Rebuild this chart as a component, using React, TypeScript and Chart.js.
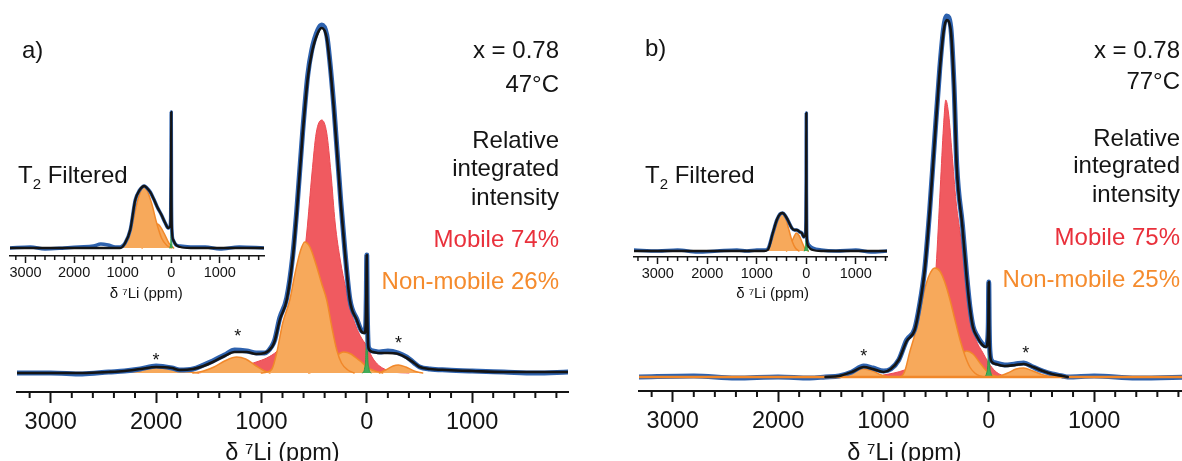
import React, { useEffect, useRef } from 'react';
import { Chart, registerables } from 'chart.js';

Chart.register(...registerables);

const FONT = '"Liberation Sans", Arial, Helvetica, sans-serif';
const INK = '#141414';
const BLUE = '#2e62ae';
const RED_FILL = '#f05a60';
const RED_LINE = '#ec4a52';
const ORANGE_FILL = '#f7a95b';
const ORANGE_LINE = '#f1882a';
const GREEN_FILL = '#42ad5a';
const GREEN_LINE = '#2b9a46';
const RED_TEXT = '#e9303b';
const ORANGE_TEXT = '#f58b2d';

// ---------- axis ticks (ppm) ----------
const majorTicks = [3000, 2000, 1000, 0, -1000];
const minorTicks = [3400, 3200, 2800, 2600, 2400, 2200, 1800, 1600, 1400, 1200, 800, 600, 400, 200, -200, -400, -600, -800, -1200, -1400, -1600, -1800];
const axisTitle = 'δ ⁷Li (ppm)';

// ---------- panel a, main spectrum (47 °C) ----------
const ppmFitA = [3320, 3000, 2700, 2450, 2300, 2150, 2000, 1850, 1776, 1650, 1550, 1462, 1350, 1254, 1140, 1050, 969, 900, 874, 826, 760, 703, 665, 608, 560, 522, 465, 427, 380, 351, 313, 247, 209, 161, 95, 47, 20, 10, 4, 0, -4, -10, -19, -60, -123, -200, -300, -380, -450, -503, -600, -760, -1000, -1300, -1600, -1910];
const fitA = [0, 0, 0, 1, 2, 4, 6, 5, 3, 4, 7, 11, 17, 21, 21, 19, 20, 26, 32, 53, 73, 115, 160, 240, 295, 320, 340, 345, 335, 310, 265, 170, 123, 73, 53, 41, 40, 48, 80, 118, 70, 35, 24, 21, 20, 20, 19, 15, 10, 6, 4, 3, 2, 1, 1, 1];
const dataA = [0, 0, -1, 1, 2, 4, 7, 5, 3, 4, 8, 12, 18, 23, 22, 20, 20, 27, 33, 55, 75, 117, 162, 242, 298, 323, 343, 348, 338, 312, 267, 172, 124, 74, 54, 42, 41, 48, 80, 118, 70, 36, 25, 22, 21, 22, 20, 16, 10, 6, 4, 3, 2, 1, 0, 1];
const ppmMobileA = [1600, 1400, 1200, 1050, 950, 850, 750, 650, 570, 520, 480, 427, 380, 340, 300, 250, 200, 150, 100, 50, 0, -50, -100, -150, -250, -400];
const mobileA = [0, 3, 6, 11, 15, 22, 35, 70, 140, 200, 240, 253, 240, 200, 150, 112, 85, 62, 46, 35, 27, 16, 9, 5, 1, 0];
const ppmNonMobA1 = [1000, 950, 900, 855, 798, 731, 680, 630, 589, 540, 480, 430, 380, 330, 285, 240, 180, 120];
const nonMobA1 = [0, 1, 4, 20, 50, 73, 100, 122, 131, 126, 108, 90, 73, 45, 23, 10, 3, 0];
const ppmNonMobA2 = [550, 450, 400, 350, 300, 250, 218, 150, 100, 50, 0, -50, -150];
const nonMobA2 = [0, 3, 6, 11, 16, 20, 21, 19, 15, 11, 6, 3, 0];
const ppmSideA1 = [1650, 1550, 1450, 1350, 1235, 1150, 1050, 970, 920];
const sideA1 = [0, 2, 6, 12, 16, 14, 7, 2, 0];
const ppmSideA2 = [-120, -180, -250, -300, -370, -450, -530];
const sideA2 = [0, 3, 7, 8, 6, 2, 0];
const ppmSideA3 = [2450, 2300, 2150, 2000, 1850, 1700, 1600];
const sideA3 = [0, 1.5, 4, 5, 4, 1.5, 0];
const ppmDiaA = [40, 20, 8, 3, 0, -3, -8, -20, -40];
const diaA = [0, 5, 20, 50, 85, 50, 20, 5, 0];
const starPpmA = [2000, 1225, -300];
const starHA = [17, 41, 34];

// ---------- panel a, inset (T2 filtered) ----------
const ppmFitInA = [3320, 2000, 1300, 1050, 950, 845, 741, 650, 597, 556, 500, 432, 360, 288, 200, 124, 62, 30, 12, 4, 0, -4, -12, -41, -100, -185, -400, -1910];
const fitInA = [0, 0, 0, 0, 5, 18, 48, 58, 61, 62, 60, 56, 49, 41, 33, 25, 20, 21, 30, 80, 136, 60, 20, 8, 3, 1, 0, 0];
const ppmDataInA = [3320, 2900, 2600, 2200, 1900, 1600, 1450, 1300, 1150, 1050, 950, 845, 741, 650, 597, 556, 500, 432, 360, 288, 200, 124, 62, 30, 12, 4, 0, -4, -12, -41, -100, -185, -400, -700, -1000, -1400, -1910];
const dataInA = [0, 1, -1, 0, 1, 2, 4, 3, 1, 1, 5, 18, 48, 58, 61, 62, 60, 56, 49, 41, 33, 25, 20, 21, 30, 80, 136, 60, 20, 8, 3, 2, 1, 1, -1, 1, 0];
const ppmNonMobInA1 = [1100, 1000, 900, 800, 700, 600, 560, 500, 400, 300, 200, 100, 0];
const nonMobInA1 = [0, 3, 8, 24, 46, 60, 61, 58, 44, 25, 10, 3, 0];
const ppmNonMobInA2 = [600, 500, 400, 300, 250, 150, 50, -50];
const nonMobInA2 = [0, 5, 16, 24, 23, 15, 5, 0];
const ppmDiaInA = [30, 12, 5, 0, -5, -12, -30];
const diaInA = [0, 4, 25, 120, 25, 4, 0];

// ---------- panel b, main spectrum (77 °C) ----------
const ppmFitB = [1550, 1420, 1300, 1187, 1100, 997, 930, 855, 779, 703, 655, 608, 560, 513, 465, 427, 399, 361, 330, 304, 250, 210, 180, 150, 110, 60, 25, 10, 4, 0, -4, -10, -30, -66, -152, -250, -332, -420, -513, -600, -700, -750];
const fitB = [0, 1, 5, 10, 8, 5, 8, 17, 36, 47, 72, 107, 167, 237, 307, 347, 357, 347, 290, 210, 150, 100, 70, 50, 40, 32, 30, 38, 55, 95, 50, 25, 15, 13, 11, 12, 13, 10, 6, 3, 1, 0];
const ppmDataB = [3320, 2800, 2400, 2000, 1700, 1550, 1420, 1300, 1187, 1100, 997, 930, 855, 779, 703, 655, 608, 560, 513, 465, 427, 399, 361, 330, 304, 250, 210, 180, 150, 110, 60, 25, 10, 4, 0, -4, -10, -30, -66, -152, -250, -332, -420, -513, -600, -700, -750, -1000, -1400, -1910];
const dataB = [0, 1, -1, 0, -1, 0, 1, 5, 11, 9, 6, 8, 17, 37, 48, 73, 108, 168, 239, 309, 350, 361, 350, 292, 212, 152, 102, 71, 51, 41, 33, 31, 38, 55, 95, 52, 27, 16, 14, 12, 13, 14, 10, 6, 3, 1, 0, 1, -1, 0];
const ppmMobileB = [1000, 900, 800, 700, 600, 540, 500, 460, 430, 408, 380, 350, 310, 275, 230, 180, 123, 60, 0, -60, -120, -200];
const mobileB = [2, 4, 7, 12, 30, 60, 110, 190, 250, 277, 262, 225, 175, 147, 110, 62, 38, 25, 14, 6, 2, 0];
const ppmNonMobB1 = [950, 850, 800, 750, 703, 655, 608, 560, 513, 465, 418, 370, 323, 275, 228, 180, 133, 85, 40];
const nonMobB1 = [0, 0, 5, 25, 42, 65, 88, 103, 109, 106, 95, 78, 58, 38, 22, 10, 4, 1, 0];
const ppmNonMobB2 = [500, 420, 350, 280, 209, 150, 90, 30, -30, -100];
const nonMobB2 = [0, 3, 10, 20, 26, 23, 15, 7, 2, 0];
const ppmSideB1 = [3320, 1450, 1350, 1270, 1190, 1100, 1020, 950];
const sideB1 = [0, 0, 2, 6, 8, 6, 2, 0];
const ppmSideB2 = [-80, -180, -260, -330, -420, -520, -620, -1910];
const sideB2 = [0, 4, 8, 9, 6, 2, 0, 0];
const ppmBaseB = [3320, -1910];
const baseB = [0, 0];
const ppmDiaB = [40, 20, 8, 3, 0, -3, -8, -20, -40];
const diaB = [0, 4, 15, 40, 75, 40, 15, 4, 0];
const starPpmB = [1187, -351];
const starHB = [25, 28];

// ---------- panel b, inset (T2 filtered) ----------
const ppmFitInB = [3480, 1000, 850, 780, 677, 596, 530, 475, 420, 374, 293, 240, 192, 130, 91, 50, 20, 8, 3, 0, -3, -8, -20, -50, -131, -300, -1630];
const fitInB = [0, 0, 0, 1, 18, 31, 37, 38, 35, 31, 23, 21, 21, 19, 18, 14, 16, 30, 70, 138, 60, 20, 8, 4, 1, 0, 0];
const ppmDataInB = [3480, 3000, 2600, 2200, 1800, 1400, 1200, 1000, 850, 780, 677, 596, 530, 475, 420, 374, 293, 240, 192, 130, 91, 50, 20, 8, 3, 0, -3, -8, -20, -50, -131, -300, -600, -1000, -1300, -1630];
const dataInB = [1, 0, 1, -1, 0, 1, 0, 1, 1, 2, 18, 31, 37, 38, 35, 31, 23, 21, 21, 19, 18, 14, 16, 30, 70, 138, 60, 20, 10, 6, 3, 1, 0, 1, -1, 0];
const ppmNonMobInB1 = [850, 750, 680, 600, 540, 480, 420, 350, 280, 220, 150];
const nonMobInB1 = [0, 5, 14, 27, 35, 37, 33, 21, 9, 3, 0];
const ppmNonMobInB2 = [400, 330, 260, 200, 140, 80, 20, -40];
const nonMobInB2 = [0, 5, 13, 18, 15, 8, 2, 0];
const ppmDiaInB = [40, 20, 8, 0, -8, -20, -40];
const diaInB = [0, 4, 18, 120, 18, 4, 0];

// ---------- texts ----------
const infoA = ['x = 0.78', '47°C', 'Relative', 'integrated', 'intensity', 'Mobile 74%', 'Non-mobile 26%'];
const infoB = ['x = 0.78', '77°C', 'Relative', 'integrated', 'intensity', 'Mobile 75%', 'Non-mobile 25%'];
const infoColors = [INK, INK, INK, INK, INK, RED_TEXT, ORANGE_TEXT];

type Comp = { ppm: number[]; h: number[] };
type PanelData = {
  fit: Comp;
  data: Comp;
  mobile?: Comp;
  nonMobile: Comp[];
  baseline?: Comp;
  dia: Comp;
  stars?: Comp;
};
type Geo = {
  left: number; top: number; w: number; h: number;
  padL: number; padR: number; axisH: number;
  xMin: number; xMax: number; yMin: number; yMax: number;
  tickFont: number; tickPad: number; titleFont: number; titlePpm: number; titleBase: number;
  majorLen: number; minorLen: number; tickW: number; fitW: number; dataW: number;
};

const pts = (c: Comp) => c.ppm.map((x, i) => ({ x, y: c.h[i] }));

const panelA: PanelData = {
  fit: { ppm: ppmFitA, h: fitA },
  data: { ppm: ppmFitA, h: dataA },
  mobile: { ppm: ppmMobileA, h: mobileA },
  nonMobile: [
    { ppm: ppmNonMobA1, h: nonMobA1 },
    { ppm: ppmNonMobA2, h: nonMobA2 },
    { ppm: ppmSideA1, h: sideA1 },
    { ppm: ppmSideA2, h: sideA2 },
    { ppm: ppmSideA3, h: sideA3 },
  ],
  dia: { ppm: ppmDiaA, h: diaA },
  stars: { ppm: starPpmA, h: starHA },
};
const insetA: PanelData = {
  fit: { ppm: ppmFitInA, h: fitInA },
  data: { ppm: ppmDataInA, h: dataInA },
  nonMobile: [
    { ppm: ppmNonMobInA1, h: nonMobInA1 },
    { ppm: ppmNonMobInA2, h: nonMobInA2 },
  ],
  dia: { ppm: ppmDiaInA, h: diaInA },
};
const panelB: PanelData = {
  fit: { ppm: ppmFitB, h: fitB },
  data: { ppm: ppmDataB, h: dataB },
  mobile: { ppm: ppmMobileB, h: mobileB },
  nonMobile: [
    { ppm: ppmNonMobB1, h: nonMobB1 },
    { ppm: ppmNonMobB2, h: nonMobB2 },
    { ppm: ppmSideB1, h: sideB1 },
    { ppm: ppmSideB2, h: sideB2 },
  ],
  baseline: { ppm: ppmBaseB, h: baseB },
  dia: { ppm: ppmDiaB, h: diaB },
  stars: { ppm: starPpmB, h: starHB },
};
const insetB: PanelData = {
  fit: { ppm: ppmFitInB, h: fitInB },
  data: { ppm: ppmDataInB, h: dataInB },
  nonMobile: [
    { ppm: ppmNonMobInB1, h: nonMobInB1 },
    { ppm: ppmNonMobInB2, h: nonMobInB2 },
  ],
  dia: { ppm: ppmDiaInB, h: diaInB },
};

const geoMainA: Geo = { left: 0, top: 0, w: 590, h: 470, padL: 17, padR: 22, axisH: 78, xMin: -1910, xMax: 3320, yMin: -19, yMax: 373, tickFont: 23.5, tickPad: 5, titleFont: 23.5, titlePpm: 800, titleBase: 460, majorLen: 11, minorLen: 6, tickW: 2, fitW: 2.6, dataW: 5 };
const geoMainB: Geo = { left: 600, top: 0, w: 600, h: 470, padL: 39, padR: 10, axisH: 79, xMin: -1910, xMax: 3320, yMin: -14, yMax: 377, tickFont: 23.5, tickPad: 5, titleFont: 23.5, titlePpm: 800, titleBase: 460, majorLen: 11, minorLen: 6, tickW: 2, fitW: 2.6, dataW: 5 };
const geoInA: Geo = { left: 0, top: 100, w: 280, h: 210, padL: 10, padR: 16, axisH: 54, xMin: -1910, xMax: 3320, yMin: -8, yMax: 148, tickFont: 14.5, tickPad: 1, titleFont: 15, titlePpm: 515, titleBase: 197.5, majorLen: 7, minorLen: 4, tickW: 1.5, fitW: 2.3, dataW: 3.5 };
const geoInB: Geo = { left: 620, top: 100, w: 280, h: 210, padL: 14, padR: 13, axisH: 53, xMin: -1630, xMax: 3480, yMin: -6, yMax: 151, tickFont: 14.5, tickPad: 1, titleFont: 15, titlePpm: 680, titleBase: 197.5, majorLen: 7, minorLen: 4, tickW: 1.5, fitW: 2.3, dataW: 3.5 };

const minorTickPlugin = {
  id: 'minorTicks',
  afterDraw(chart: any, _args: any, opts: any) {
    const s = chart.scales.x;
    const ctx = chart.ctx;
    ctx.save();
    ctx.strokeStyle = INK;
    ctx.lineWidth = opts.width;
    for (const v of minorTicks) {
      const x = s.getPixelForValue(v);
      if (x < s.left - 0.5 || x > s.right + 0.5) continue;
      ctx.beginPath();
      ctx.moveTo(x, s.top);
      ctx.lineTo(x, s.top + opts.length);
      ctx.stroke();
    }
    ctx.restore();
  },
};

const axisTitlePlugin = {
  id: 'axisTitle',
  afterDraw(chart: any, _args: any, opts: any) {
    const s = chart.scales.x;
    const ctx = chart.ctx;
    ctx.save();
    ctx.fillStyle = INK;
    ctx.font = `${opts.size}px ${FONT}`;
    ctx.textAlign = 'center';
    ctx.textBaseline = 'alphabetic';
    ctx.fillText(axisTitle, s.getPixelForValue(opts.ppm), opts.base);
    ctx.restore();
  },
};

const starPlugin = {
  id: 'stars',
  afterDatasetsDraw(chart: any, _args: any, opts: any) {
    const st: Comp | undefined = opts.stars;
    if (!st) return;
    const ctx = chart.ctx;
    ctx.save();
    ctx.fillStyle = INK;
    ctx.font = `18px ${FONT}`;
    ctx.textAlign = 'center';
    ctx.textBaseline = 'alphabetic';
    st.ppm.forEach((p, i) => {
      const x = chart.scales.x.getPixelForValue(p);
      const y = chart.scales.y.getPixelForValue(st.h[i]);
      ctx.fillText('*', x, y + 0.58 * 18);
    });
    ctx.restore();
  },
};

function Spectrum({ geo, data }: { geo: Geo; data: PanelData }) {
  const ref = useRef<HTMLCanvasElement | null>(null);
  useEffect(() => {
    const canvas = ref.current;
    if (!canvas) return;
    const datasets: any[] = [];
    datasets.push({ label: 'fit', data: pts(data.fit), borderColor: INK, borderWidth: geo.fitW, fill: false, order: 0 });
    if (data.baseline) {
      datasets.push({ label: 'baseline', data: pts(data.baseline), borderColor: ORANGE_LINE, borderWidth: 2.5, fill: false, order: 0.5 });
    }
    datasets.push({ label: 'data', data: pts(data.data), borderColor: BLUE, borderWidth: geo.dataW, fill: false, order: 1 });
    datasets.push({ label: 'dia', data: pts(data.dia), borderColor: GREEN_LINE, backgroundColor: GREEN_FILL, borderWidth: 1, fill: 'origin', order: 2 });
    data.nonMobile.forEach((c, i) => {
      datasets.push({ label: 'nonmobile' + i, data: pts(c), borderColor: ORANGE_LINE, backgroundColor: ORANGE_FILL, borderWidth: 1.5, fill: 'origin', order: 3 });
    });
    if (data.mobile) {
      datasets.push({ label: 'mobile', data: pts(data.mobile), borderColor: RED_LINE, backgroundColor: RED_FILL, borderWidth: 1, fill: 'origin', order: 4 });
    }
    const chart = new Chart(canvas, {
      type: 'line',
      data: { datasets },
      options: {
        responsive: false,
        maintainAspectRatio: false,
        animation: false,
        devicePixelRatio: 1,
        layout: { padding: { left: geo.padL, right: geo.padR, top: 0, bottom: 0 } },
        elements: {
          point: { radius: 0, hoverRadius: 0 },
          line: { cubicInterpolationMode: 'monotone', borderJoinStyle: 'round', borderCapStyle: 'round' },
        },
        plugins: {
          legend: { display: false },
          tooltip: { enabled: false },
          minorTicks: { width: geo.tickW, length: geo.minorLen },
          axisTitle: { size: geo.titleFont, ppm: geo.titlePpm, base: geo.titleBase },
          stars: { stars: data.stars },
        } as any,
        scales: {
          x: {
            type: 'linear',
            reverse: true,
            min: geo.xMin,
            max: geo.xMax,
            afterBuildTicks: (s: any) => {
              s.ticks = majorTicks.map((v) => ({ value: v }));
            },
            afterFit: (s: any) => {
              s.height = geo.axisH;
            },
            ticks: {
              autoSkip: false,
              maxRotation: 0,
              padding: geo.tickPad,
              color: INK,
              font: { family: FONT, size: geo.tickFont },
              callback: (v: any) => String(Math.abs(Number(v))),
            },
            grid: { drawOnChartArea: false, drawTicks: true, tickLength: geo.majorLen, tickWidth: geo.tickW, tickColor: INK },
            border: { display: true, color: INK, width: geo.tickW },
            title: { display: false },
          },
          y: { type: 'linear', display: false, min: geo.yMin, max: geo.yMax },
        },
      } as any,
      plugins: [minorTickPlugin, axisTitlePlugin, starPlugin],
    });
    return () => chart.destroy();
  }, [geo, data]);
  return (
    <canvas
      ref={ref}
      width={geo.w}
      height={geo.h}
      style={{ position: 'absolute', left: geo.left, top: geo.top, width: geo.w, height: geo.h }}
    />
  );
}

const infoYA = [50, 84, 140, 168, 197, 239, 281];
const infoYB = [50, 81, 138, 165, 194, 237, 279];

function TextAt({ x, y, align, color, children }: { x: number; y: number; align: 'left' | 'right'; color: string; children: React.ReactNode }) {
  const style: React.CSSProperties = {
    position: 'absolute',
    top: y,
    transform: 'translateY(-50%)',
    lineHeight: 1,
    fontSize: 24,
    fontFamily: FONT,
    color,
    whiteSpace: 'nowrap',
  };
  if (align === 'right') style.right = 1182 - x;
  else style.left = x;
  return <div style={style}>{children}</div>;
}

function T2Label({ x, y }: { x: number; y: number }) {
  return (
    <TextAt x={x} y={y} align="left" color={INK}>
      T<span style={{ fontSize: 15, position: 'relative', top: 6 }}>2</span> Filtered
    </TextAt>
  );
}

export default function App() {
  return (
    <div style={{ position: 'absolute', left: 0, top: 0, width: 1182, height: 461, overflow: 'hidden', background: '#fff' }}>
      <Spectrum geo={geoMainA} data={panelA} />
      <Spectrum geo={geoMainB} data={panelB} />
      <Spectrum geo={geoInA} data={insetA} />
      <Spectrum geo={geoInB} data={insetB} />
      <TextAt x={22} y={50} align="left" color={INK}>a)</TextAt>
      <TextAt x={645} y={48} align="left" color={INK}>b)</TextAt>
      <T2Label x={18} y={175} />
      <T2Label x={645} y={175} />
      {infoA.map((t, i) => (
        <TextAt key={'a' + i} x={559} y={infoYA[i]} align="right" color={infoColors[i]}>{t}</TextAt>
      ))}
      {infoB.map((t, i) => (
        <TextAt key={'b' + i} x={1180} y={infoYB[i]} align="right" color={infoColors[i]}>{t}</TextAt>
      ))}
    </div>
  );
}
